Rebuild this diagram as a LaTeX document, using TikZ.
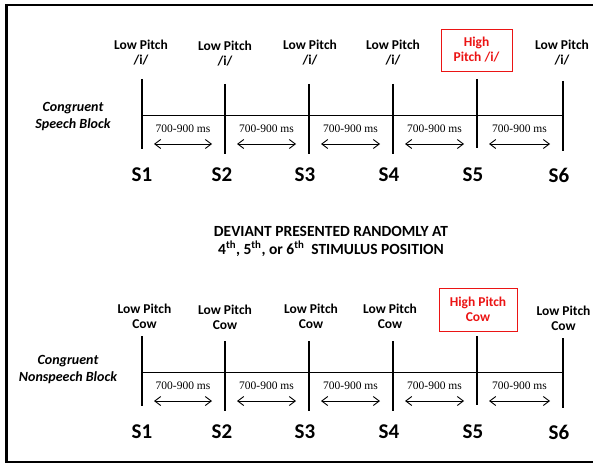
\documentclass[tikz,border=0pt]{standalone}
\usepackage{fontspec}
\setmainfont{Carlito}
\newfontfamily\tiempos{Liberation Serif}
\usepackage{tkz-euclide}
\usetikzlibrary{arrows.meta}

\definecolor{rojo}{RGB}{235,20,20}

\tikzset{
    marco/.style={line width=2.2bp},
    marca/.style={line width=2bp},
    eje/.style={line width=0.9bp},
    intervalo/.style={line width=0.9bp,
        {Straight Barb[length=6bp,width=9bp]}-{Straight Barb[length=6bp,width=9bp]}},
    duracion/.style={font=\tiempos\fontsize{11.5bp}{13bp}\selectfont, inner sep=0pt},
    estimulo/.style={font=\fontsize{13.5bp}{15bp}\selectfont\bfseries, align=center, inner sep=0pt},
    desviado/.style={estimulo, text=rojo, draw=rojo, line width=0.9bp},
    etiqueta/.style={font=\fontsize{21bp}{24bp}\selectfont\bfseries, inner sep=0pt},
    bloque/.style={font=\fontsize{14bp}{17bp}\selectfont\bfseries\itshape, align=center, inner sep=0pt},
    aviso/.style={font=\fontsize{15.5bp}{18bp}\selectfont\bfseries, align=center, inner sep=0pt}
}

\begin{document}
\begin{tikzpicture}[x=1bp,y=-1bp]
        % Marco de la figura
        \useasboundingbox (0,0) rectangle (593,464);
        \tkzDefPoints{600/5/M1, 6.5/5/M2, 6.5/462/M3, 600/462/M4}
        \draw[marco] (M1) -- (M2) -- (M3) -- (M4);

        % Dos bloques: habla (h) arriba y no habla (n) abajo
        \foreach \bl/\dy in {h/0, n/257}{
            \begin{scope}[yshift=-\dy bp]
                % Marcas S1...S6: x, extremo superior, extremo inferior, x de la etiqueta
                \foreach \i/\x/\ya/\yb/\xs in {1/142/79/149/142, 2/225/84/154/222,
                        3/309/84/154/305, 4/393/84/154/389, 5/477/79/148/473, 6/563/81/151/559}{
                    \coordinate (\bl t\i) at (\x,\ya);
                    \coordinate (\bl b\i) at (\x,\yb);
                    \coordinate (\bl e\i) at (\x,115);
                    \draw[marca] (\bl t\i) -- (\bl b\i);
                    \node[etiqueta] (\bl s\i) at (\xs,175) {S\i};
                }
                % Eje del tiempo
                \draw[eje] (\bl e1) -- (\bl e6);
                % Intervalos entre estímulos
                \foreach \i [evaluate=\i as \j using int(\i+1)] in {1,...,5}{
                    \coordinate (\bl a\i) at ([shift={(12,29)}]\bl e\i);
                    \coordinate (\bl z\i) at ([shift={(-13,29)}]\bl e\j);
                    \draw[intervalo] (\bl a\i) -- (\bl z\i)
                        node[duracion, midway, yshift=15bp] (\bl d\i) {700-900 ms};
                }
            \end{scope}
        }

        % Estímulos del bloque de habla
        \node[estimulo] (hp1) at (141,52.5) {Low Pitch\\/i/};
        \node[estimulo] (hp2) at (225,53.5) {Low Pitch\\/i/};
        \node[estimulo] (hp3) at (310,52.5) {Low Pitch\\/i/};
        \node[estimulo] (hp4) at (393,52.5) {Low Pitch\\/i/};
        \node[desviado, minimum width=71bp, minimum height=42bp] (hp5) at (476.5,50) {High\\Pitch /i/};
        \node[estimulo] (hp6) at (562,52.5) {Low Pitch\\/i/};

        % Estímulos del bloque de no habla
        \node[estimulo] (np1) at (144.5,316.5) {Low Pitch\\Cow};
        \node[estimulo] (np2) at (225,317.5) {Low Pitch\\Cow};
        \node[estimulo] (np3) at (311,316.5) {Low Pitch\\Cow};
        \node[estimulo] (np4) at (390,316.5) {Low Pitch\\Cow};
        \node[desviado, minimum width=78bp, minimum height=43bp] (np5) at (478,309.5) {High Pitch\\Cow};
        \node[estimulo] (np6) at (563.5,318.5) {Low Pitch\\Cow};

        % Nombres de los bloques
        \node[bloque] (hbloque) at (73,116.5) {Congruent\\Speech Block};
        \node[bloque] (nbloque) at (68,369.5) {Congruent\\Nonspeech Block};

        % Texto central
        \node[aviso] (aviso) at (331,241) {DEVIANT PRESENTED RANDOMLY AT\\
            4\textsuperscript{th}, 5\textsuperscript{th}, or 6\textsuperscript{th}\ \ STIMULUS POSITION};
    \end{tikzpicture}
\end{document}
